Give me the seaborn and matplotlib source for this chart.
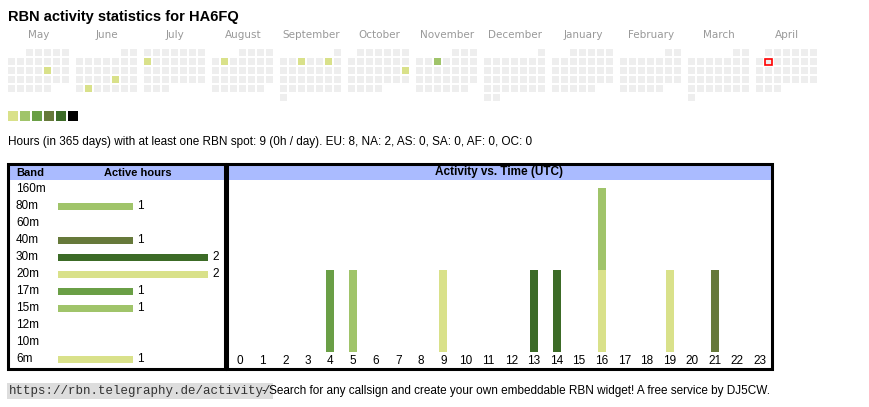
import datetime as dt

import matplotlib.pyplot as plt
import pandas as pd
import seaborn as sns
from matplotlib.patches import Rectangle

CALLSIGN = "HA6FQ"
START = dt.date(2024, 5, 1)
TODAY = dt.date(2025, 4, 8)
LEVELS = ["#d9e18a", "#a0c46a", "#6a9f46", "#66793a", "#3c6b27", "#000000"]

# active days -> activity level (index into LEVELS)
active_days = {
    dt.date(2024, 5, 17): 0,
    dt.date(2024, 6, 21): 0,
    dt.date(2024, 6, 25): 0,
    dt.date(2024, 7, 8): 0,
    dt.date(2024, 8, 6): 0,
    dt.date(2024, 9, 4): 0,
    dt.date(2024, 9, 7): 0,
    dt.date(2024, 10, 20): 0,
    dt.date(2024, 11, 6): 1,
}

bands = ["160m", "80m", "60m", "40m", "30m", "20m", "17m", "15m", "12m", "10m", "6m"]
band_hours = [0, 1, 0, 1, 2, 2, 1, 1, 0, 0, 1]
band_colors = {"160m": "#3c6b27", "80m": "#a0c46a", "60m": "#6a9f46", "40m": "#66793a",
               "30m": "#3c6b27", "20m": "#d9e18a", "17m": "#6a9f46", "15m": "#a0c46a",
               "12m": "#66793a", "10m": "#a0c46a", "6m": "#d9e18a"}

# (hour UTC, band) pairs with activity
spot_hours = [4, 5, 9, 13, 14, 16, 16, 19, 21]
spot_bands = ["17m", "15m", "20m", "30m", "30m", "6m", "80m", "20m", "40m"]

W, H = 870, 407
plt.rcParams["font.family"] = ["Liberation Sans", "DejaVu Sans"]
fig = plt.figure(figsize=(W / 100, H / 100), dpi=100)
bg = fig.add_axes([0, 0, 1, 1])
bg.set_xlim(0, W)
bg.set_ylim(H, 0)
bg.axis("off")


def px_axes(x0, y0, x1, y1):
    ax = fig.add_axes([x0 / W, 1 - y1 / H, (x1 - x0) / W, (y1 - y0) / H])
    ax.patch.set_alpha(0)
    ax.axis("off")
    return ax


bg.text(8, 17, f"RBN activity statistics for {CALLSIGN}", fontsize=10.5,
        fontweight="bold", va="center")

# calendar
month_start = START
for k in range(12):
    x0 = 8 + 68 * k
    first_wd = month_start.weekday()
    bg.text(x0 + 31, 35, month_start.strftime("%B"), ha="center", va="center",
            fontsize=7.5, color="#999999", family=["DejaVu Sans"])
    d = month_start
    while d.month == month_start.month:
        row = (d.day - 1 + first_wd) // 7
        x = x0 + 9 * d.weekday()
        y = 49 + 9 * row
        col = LEVELS[active_days[d]] if d in active_days else "#eeeeee"
        bg.add_patch(Rectangle((x, y), 7, 7, color=col, lw=0))
        if d == TODAY:
            bg.add_patch(Rectangle((x + 0.5, y + 0.5), 6.5, 6.5, fill=False,
                                   ec="red", lw=1.2))
        d += dt.timedelta(days=1)
    month_start = d

for i, c in enumerate(LEVELS):
    bg.add_patch(Rectangle((8 + 12 * i, 111), 10, 10, color=c, lw=0))

n_hours = len(spot_hours)
bg.text(8, 142, f"Hours (in 365 days) with at least one RBN spot: {n_hours} (0h / day). "
        "EU: 8, NA: 2, AS: 0, SA: 0, AF: 0, OC: 0", fontsize=8.5, va="center")

# panel frames and headers
for x0, x1 in [(8, 225), (227, 772)]:
    bg.add_patch(Rectangle((x0 + 1, 165), x1 - x0 - 2, 15, color="#aabbff", lw=0))
    bg.add_patch(Rectangle((x0, 164), x1 - x0, 205, fill=False, ec="black", lw=2.2))
bg.text(16, 172.5, "Band", fontsize=8, fontweight="bold", va="center")
bg.text(138, 172.5, "Active hours", fontsize=8, fontweight="bold", va="center", ha="center")
bg.text(499, 172.5, "Activity vs. Time (UTC)", fontsize=8.5, fontweight="bold",
        va="center", ha="center")

# band panel
df_b = pd.DataFrame({"band": bands, "hours": band_hours})
axb = px_axes(10, 181, 223, 367)
sns.barplot(data=df_b, x="hours", y="band", hue="band", palette=band_colors,
            orient="h", width=7 / 17, saturation=1, legend=False, ax=axb)
axb.set_xlim(-48 / 75, 165 / 75)
axb.set_ylim(10 + 8 / 17, -8 / 17)
axb.axis("off")
for i, (b, v) in enumerate(zip(bands, band_hours)):
    axb.text(-42 / 75, i, b, va="center", fontsize=8.5)
    if v:
        axb.text(v + 4 / 75, i, str(v), va="center", fontsize=8.5)

# hours panel
df_h = pd.DataFrame({"hour": spot_hours, "band": spot_bands})
axh = px_axes(229, 181, 770, 367)
bottom = {}
for h, b in zip(df_h["hour"], df_h["band"]):
    axh.bar(h, 1, bottom=bottom.get(h, 0), width=8 / 22.6, color=band_colors[b], lw=0)
    bottom[h] = bottom.get(h, 0) + 1
axh.set_xlim(-11 / 22.6, 23 + 10 / 22.6)
axh.set_ylim(-15 / 82, 171 / 82)
for h in range(24):
    axh.text(h, -9 / 82, str(h), ha="center", va="center", fontsize=8.5)

# footer
bg.text(9, 391, "https://rbn.telegraphy.de/activity/", family=["Liberation Mono"],
        fontsize=9, va="center", color="#333333",
        bbox=dict(boxstyle="square,pad=0.15", fc="#dddddd", ec="none"))
bg.text(262, 391, "- Search for any callsign and create your own embeddable RBN widget! "
        "A free service by DJ5CW.", fontsize=8.5, va="center")

fig.savefig("out.png", dpi=100)
